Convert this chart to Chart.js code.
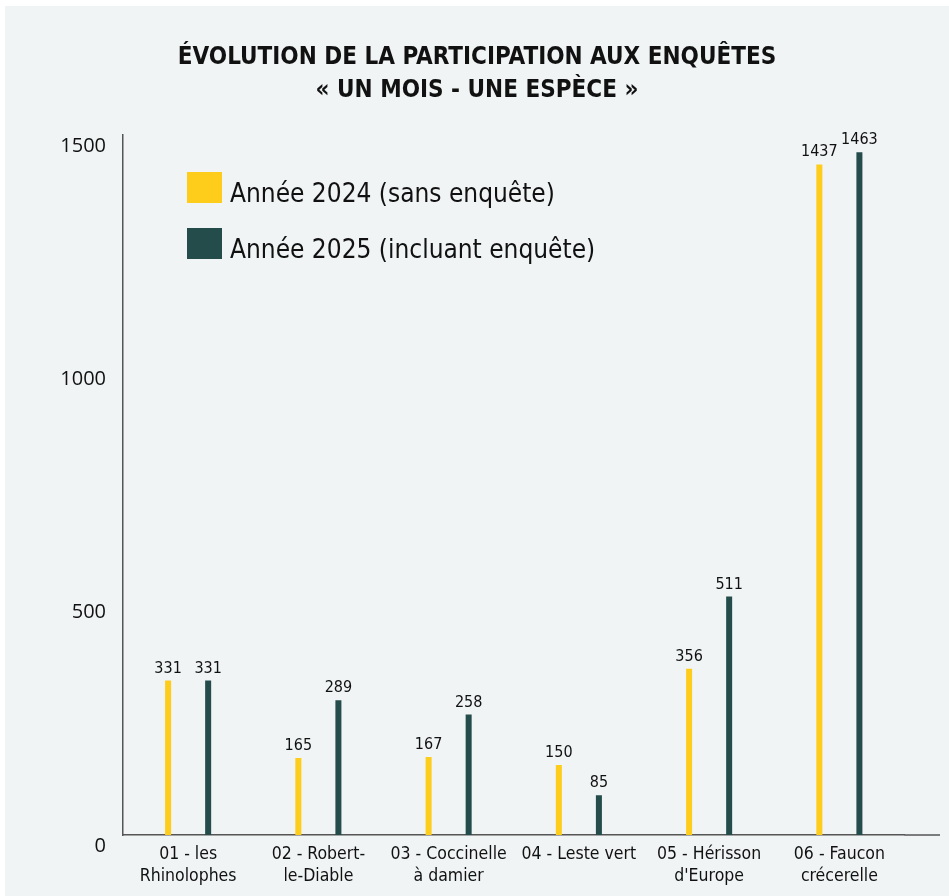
<!DOCTYPE html>
<html>
<head>
<meta charset="utf-8">
<script src="https://cdn.jsdelivr.net/npm/chart.js@4.4.1/dist/chart.umd.min.js"></script>
<style>
  html, body { margin: 0; padding: 0; background: #fff; }
  #panel { position: absolute; left: 5px; top: 6px; width: 944px; height: 890px; background: #f0f4f5; }
</style>
</head>
<body>
<div id="panel"><canvas id="chart" width="944" height="890"></canvas></div>
<script>
const categories = [
  ['01 - les', 'Rhinolophes'],
  ['02 - Robert-', 'le-Diable'],
  ['03 - Coccinelle', 'à damier'],
  ['04 - Leste vert'],
  ['05 - Hérisson', "d'Europe"],
  ['06 - Faucon', 'crécerelle']
]
const values2024 = [331, 165, 167, 150, 356, 1437]
const values2025 = [331, 289, 258, 85, 511, 1463]
const yTicks = [0, 500, 1000, 1500]
const seriesNames = ['Année 2024 (sans enquête)', 'Année 2025 (incluant enquête)']
const seriesColors = ['#fecc1b', '#234c4b']
const titleLines = ['ÉVOLUTION DE LA PARTICIPATION AUX ENQUÊTES', '« UN MOIS - UNE ESPÈCE »']

const condensed = "'DejaVu Sans Condensed', 'DejaVu Sans', sans-serif"

// numbers above each bar
const valueLabels = {
  id: 'valueLabels',
  afterDatasetsDraw(chart) {
    const ctx = chart.ctx
    ctx.save()
    ctx.font = '16px ' + condensed
    ctx.fillStyle = '#111'
    ctx.textAlign = 'center'
    ctx.textBaseline = 'alphabetic'
    chart.data.datasets.forEach((ds, i) => {
      chart.getDatasetMeta(i).data.forEach((bar, j) => {
        ctx.fillText(ds.data[j], bar.x, bar.y - 8)
      })
    })
    ctx.restore()
  }
}

// legend inside the plot, top left
const boxLegend = {
  id: 'boxLegend',
  afterDraw(chart) {
    const ctx = chart.ctx
    const area = chart.chartArea
    ctx.save()
    ctx.font = '26px ' + condensed
    ctx.textBaseline = 'alphabetic'
    chart.data.datasets.forEach((ds, i) => {
      const top = area.top + 37 + i * 56
      ctx.fillStyle = ds.backgroundColor
      ctx.fillRect(area.left + 64, top, 35, 31)
      ctx.fillStyle = '#111'
      ctx.fillText(ds.label, area.left + 107, top + 30)
    })
    ctx.restore()
  }
}

// x baseline runs past the last category
const longBaseline = {
  id: 'longBaseline',
  afterDraw(chart) {
    const ctx = chart.ctx
    const area = chart.chartArea
    ctx.save()
    ctx.strokeStyle = '#555'
    ctx.lineWidth = 1.5
    ctx.beginPath()
    ctx.moveTo(area.right, area.bottom)
    ctx.lineTo(chart.width - 9, area.bottom)
    ctx.stroke()
    ctx.restore()
  }
}

new Chart(document.getElementById('chart'), {
  type: 'bar',
  data: {
    labels: categories,
    datasets: [
      { label: seriesNames[0], data: values2024, backgroundColor: seriesColors[0] },
      { label: seriesNames[1], data: values2025, backgroundColor: seriesColors[1] }
    ]
  },
  options: {
    responsive: false,
    animation: false,
    categoryPercentage: 0.615,
    barPercentage: 0.15,
    plugins: {
      legend: { display: false },
      tooltip: { enabled: false },
      title: {
        display: true,
        text: titleLines,
        color: '#111',
        font: { family: condensed, weight: 'bold', size: 24, lineHeight: 1.375 },
        padding: { top: 35, bottom: 28 }
      }
    },
    scales: {
      x: {
        grid: { display: false, drawTicks: false },
        border: { color: '#555', width: 1.5 },
        ticks: {
          color: '#111',
          font: { family: condensed, size: 17.5, lineHeight: 1.25 },
          padding: 9,
          maxRotation: 0,
          autoSkip: false
        },
        afterFit(scale) { scale.height = 61 }
      },
      y: {
        min: yTicks[0],
        max: yTicks[yTicks.length - 1],
        afterBuildTicks(scale) { scale.ticks = yTicks.map(v => ({ value: v })) },
        grid: { display: false, drawTicks: false },
        border: { color: '#555', width: 1.5 },
        ticks: {
          color: '#111',
          font: { family: "'Open Sans', sans-serif", size: 20 },
          padding: 17,
          labelOffset: 11,
          callback: v => String(v)
        },
        afterFit(scale) { scale.width = 118 }
      },
      // empty space on the right so the plot stops before the end of the baseline
      rightGap: {
        type: 'linear',
        position: 'right',
        grid: { display: false, drawTicks: false },
        border: { display: false },
        ticks: { display: false },
        afterFit(scale) { scale.width = 44.5 }
      }
    }
  },
  plugins: [valueLabels, boxLegend, longBaseline]
})
</script>
</body>
</html>
